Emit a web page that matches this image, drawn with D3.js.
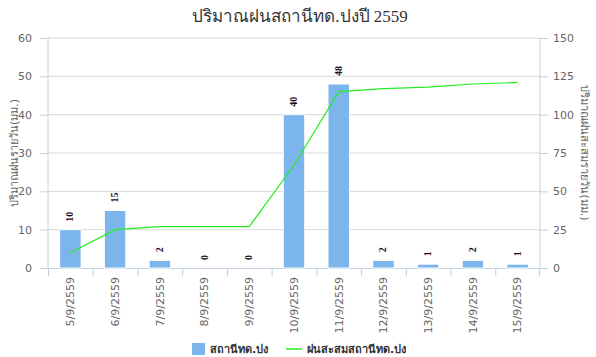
<!DOCTYPE html>
<html>
<head>
<meta charset="utf-8">
<script src="https://cdn.jsdelivr.net/npm/d3@7"></script>
<style>
  body { margin: 0; background: #fff; }
  text { font-family: "DejaVu Sans", Tahoma, sans-serif; }
  text.serif { font-family: "Liberation Serif", "Times New Roman", "DejaVu Serif", serif; }
</style>
</head>
<body>
<div id="chart"></div>
<script>
// data
var dates = ["5/9/2559", "6/9/2559", "7/9/2559", "8/9/2559", "9/9/2559", "10/9/2559",
             "11/9/2559", "12/9/2559", "13/9/2559", "14/9/2559", "15/9/2559"];
var dailyRain = [10, 15, 2, 0, 0, 40, 48, 2, 1, 2, 1];
var cumulRain = [10, 25, 27, 27, 27, 67, 115, 117, 118, 120, 121];
var leftTicks = [0, 10, 20, 30, 40, 50, 60];
var rightTicks = [0, 25, 50, 75, 100, 125, 150];

var W = 596, H = 357;
var margin = {top: 38, right: 56, bottom: 89, left: 48},
    width = W - margin.left - margin.right,
    height = H - margin.top - margin.bottom;

var svg = d3.select("#chart").append("svg")
    .attr("width", W).attr("height", H);

// title
svg.append("text")
    .attr("class", "serif")
    .attr("x", 300).attr("y", 22)
    .attr("text-anchor", "middle")
    .style("font-size", "17px")
    .attr("fill", "#333")
    .text("ปริมาณฝนสถานีทด.ปงปี 2559");

var g = svg.append("g").attr("transform", `translate(${margin.left},${margin.top})`);

var x = d3.scaleBand().domain(dates).range([0, width]).paddingInner(0.52).paddingOuter(0.26);
var xb = d3.scaleBand().domain(dates).range([0, width]);
var yL = d3.scaleLinear().domain([0, 60]).range([height, 0]);
var yR = d3.scaleLinear().domain([0, 150]).range([height, 0]);

// grid
g.append("g").selectAll("line").data(leftTicks.slice(1)).join("line")
    .attr("x1", 0).attr("x2", width)
    .attr("y1", d => yL(d)).attr("y2", d => yL(d))
    .attr("stroke", "#d8d8d8");

// left axis
var axL = g.append("g").call(d3.axisLeft(yL).tickValues(leftTicks).tickSize(8).tickPadding(8));
axL.select(".domain").attr("stroke", "#c0d0e0").attr("d", `M0,0V${height}`);
axL.selectAll(".tick line").attr("stroke", "#c0d0e0");
axL.selectAll(".tick text").attr("fill", "#666").style("font-size", "11px");

// right axis
var axR = g.append("g").attr("transform", `translate(${width},0)`)
    .call(d3.axisRight(yR).tickValues(rightTicks).tickSize(8).tickPadding(5));
axR.select(".domain").attr("stroke", "#c0d0e0").attr("d", `M0,0V${height}`);
axR.selectAll(".tick line").attr("stroke", "#c0d0e0");
axR.selectAll(".tick text").attr("fill", "#666").style("font-size", "11px");

// bottom axis
var axB = g.append("g").attr("transform", `translate(0,${height})`)
    .call(d3.axisBottom(xb).tickSize(0).tickPadding(0));
axB.select(".domain").attr("stroke", "#c0d0e0");
axB.selectAll(".tick line").remove();
axB.selectAll(".tick text")
    .attr("fill", "#666").style("font-size", "11px")
    .attr("text-anchor", "end")
    .attr("transform", "rotate(-90)")
    .attr("x", -9).attr("y", 0).attr("dy", "0.35em");
// tick marks between categories
g.append("g").selectAll("line").data(dates).join("line")
    .attr("x1", d => xb(d) + 0.5).attr("x2", d => xb(d) + 0.5)
    .attr("y1", height).attr("y2", height + 8)
    .attr("stroke", "#c0d0e0");
g.append("line").attr("x1", width - 0.5).attr("x2", width - 0.5)
    .attr("y1", height).attr("y2", height + 8).attr("stroke", "#c0d0e0");

// bars
g.append("g").selectAll("rect").data(dailyRain).join("rect")
    .attr("x", (d, i) => x(dates[i]))
    .attr("y", d => yL(d))
    .attr("width", x.bandwidth())
    .attr("height", d => height - yL(d))
    .attr("fill", "#7cb5ec")
    .attr("stroke", "#fff").attr("stroke-width", 1);

// bar labels
g.append("g").selectAll("text").data(dailyRain).join("text")
    .attr("class", "serif")
    .attr("transform", (d, i) => `translate(${xb(dates[i]) + xb.bandwidth() / 2 + 3},${yL(d) - 8}) rotate(-90)`)
    .attr("text-anchor", "start")
    .style("font-size", "10px").style("font-weight", "bold")
    .attr("fill", "#1a0a1a")
    .attr("stroke", "#fff").attr("stroke-width", 2).attr("paint-order", "stroke")
    .text(d => d);

// cumulative line
var line = d3.line()
    .x((d, i) => xb(dates[i]) + xb.bandwidth() / 2)
    .y(d => yR(d));
g.append("path").datum(cumulRain)
    .attr("d", line)
    .attr("fill", "none")
    .attr("stroke", "#22ee22").attr("stroke-width", 1.2);

// axis titles
svg.append("text")
    .attr("transform", "translate(18,153) rotate(-90)")
    .attr("text-anchor", "middle")
    .style("font-size", "11px").attr("fill", "#666")
    .text("ปริมาณฝนรายวัน(มม.)");
svg.append("text")
    .attr("transform", "translate(581,153) rotate(90)")
    .attr("text-anchor", "middle")
    .style("font-size", "11px").attr("fill", "#666")
    .text("ปริมาณฝนสะสมรายวัน(มม.)");

// legend
var lg = svg.append("g");
lg.append("rect").attr("x", 192).attr("y", 343).attr("width", 13).attr("height", 12).attr("fill", "#7cb5ec");
lg.append("text").attr("x", 210).attr("y", 353)
    .style("font-size", "11px").style("font-weight", "bold").attr("fill", "#333")
    .text("สถานีทด.ปง");
lg.append("line").attr("x1", 286).attr("x2", 302).attr("y1", 349).attr("y2", 349)
    .attr("stroke", "#22ee22").attr("stroke-width", 1.5);
lg.append("text").attr("x", 307).attr("y", 353)
    .style("font-size", "11px").style("font-weight", "bold").attr("fill", "#333")
    .text("ฝนสะสมสถานีทด.ปง");
</script>
</body>
</html>
